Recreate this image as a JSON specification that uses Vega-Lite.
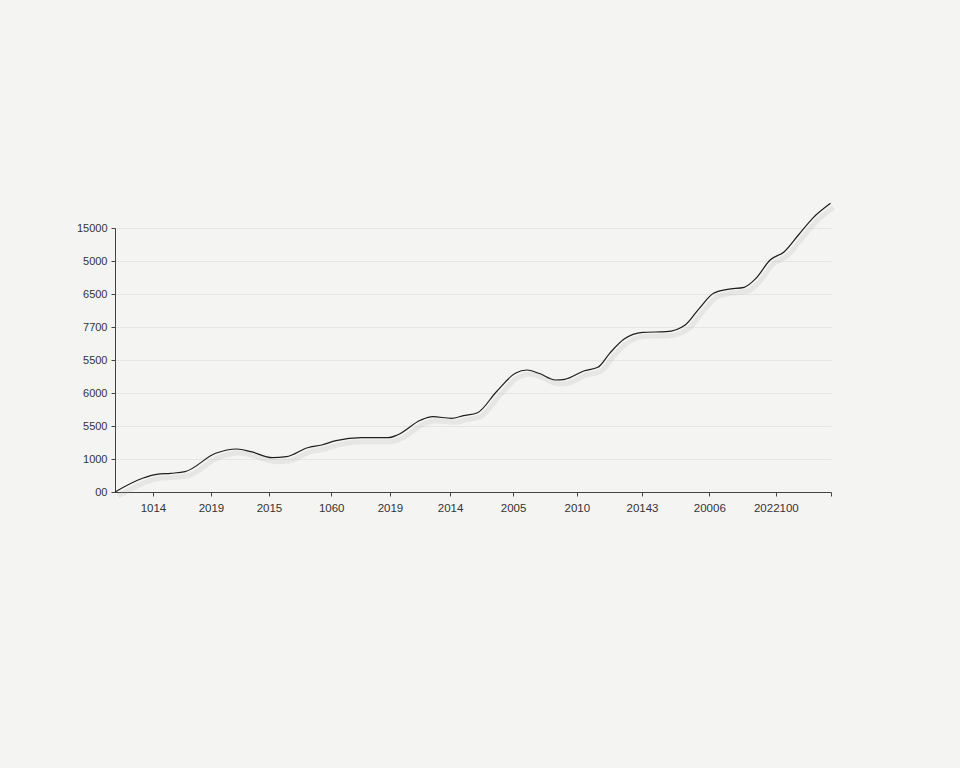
{
  "$schema": "https://vega.github.io/schema/vega-lite/v6.json",
  "width": 716,
  "height": 264,
  "autosize": {"type": "none"},
  "padding": {"left": 115, "top": 228, "right": 129, "bottom": 276},
  "background": "#f4f4f3",
  "config": {
    "view": {"stroke": null},
    "font": "Liberation Sans",
    "axis": {"labelFont": "Liberation Sans", "labelColor": "#333333", "labelFontSize": 11}
  },
  "data": {
    "values": [
      {"t": 0, "v": 0},
      {"t": 3.84, "v": 0.415},
      {"t": 5.81, "v": 0.536},
      {"t": 7.79, "v": 0.567},
      {"t": 9.78, "v": 0.615},
      {"t": 14.05, "v": 1.173},
      {"t": 17.03, "v": 1.303},
      {"t": 18.99, "v": 1.221},
      {"t": 21.97, "v": 1.039},
      {"t": 23.94, "v": 1.07},
      {"t": 26.9, "v": 1.342},
      {"t": 28.88, "v": 1.424},
      {"t": 30.87, "v": 1.555},
      {"t": 34.48, "v": 1.645},
      {"t": 38.11, "v": 1.645},
      {"t": 39.43, "v": 1.727},
      {"t": 42.72, "v": 2.182},
      {"t": 44.37, "v": 2.282},
      {"t": 47.01, "v": 2.233},
      {"t": 48.66, "v": 2.312},
      {"t": 50.63, "v": 2.403},
      {"t": 53.27, "v": 3.039},
      {"t": 55.91, "v": 3.597},
      {"t": 57.56, "v": 3.697},
      {"t": 59.2, "v": 3.597},
      {"t": 61.51, "v": 3.394},
      {"t": 62.82, "v": 3.415},
      {"t": 65.46, "v": 3.667},
      {"t": 67.44, "v": 3.779},
      {"t": 69.09, "v": 4.203},
      {"t": 71.06, "v": 4.627},
      {"t": 73.7, "v": 4.839},
      {"t": 77.0, "v": 4.858},
      {"t": 79.64, "v": 5.061},
      {"t": 81.61, "v": 5.567},
      {"t": 83.59, "v": 6.021},
      {"t": 85.56, "v": 6.142},
      {"t": 87.88, "v": 6.203},
      {"t": 89.53, "v": 6.476},
      {"t": 91.49, "v": 7.03},
      {"t": 93.48, "v": 7.282},
      {"t": 95.45, "v": 7.788},
      {"t": 97.43, "v": 8.294},
      {"t": 99.93, "v": 8.748}
    ]
  },
  "encoding": {
    "x": {
      "field": "t",
      "type": "quantitative",
      "scale": {"domain": [0, 100], "nice": false, "zero": false},
      "axis": {
        "title": null,
        "grid": false,
        "values": [5.3, 13.4, 21.5, 30.2, 38.4, 46.8, 55.6, 64.5, 73.6, 83.0, 92.3, 100],
        "labelExpr": "['1014','2019','2015','1060','2019','2014','2005','2010','20143','20006','2022100',''][indexof([5.3,13.4,21.5,30.2,38.4,46.8,55.6,64.5,73.6,83.0,92.3,100], datum.value)]",
        "domainColor": "#444444",
        "tickColor": "#444444",
        "labelColor": "#333333",
        "tickSize": 4,
        "labelPadding": 6,
        "labelFontSize": 11.5
      }
    },
    "y": {
      "field": "v",
      "type": "quantitative",
      "scale": {"domain": [0, 8], "nice": false},
      "axis": {
        "title": null,
        "values": [0, 1, 2, 3, 4, 5, 6, 7, 8],
        "labelExpr": "['00','1000','5500','6000','5500','7700','6500','5000','15000'][datum.value]",
        "gridColor": "#e6e6e4",
        "gridWidth": 1,
        "domainColor": "#444444",
        "tickColor": "#444444",
        "labelColor": "#333333",
        "tickSize": 4,
        "labelPadding": 4
      }
    }
  },
  "layer": [
    {
      "mark": {"type": "line", "interpolate": "monotone", "color": "#9a9a98", "strokeWidth": 5, "opacity": 0.15, "xOffset": 3, "yOffset": 4}
    },
    {
      "mark": {"type": "line", "interpolate": "monotone", "color": "#1e1e1e", "strokeWidth": 1.2}
    }
  ]
}
